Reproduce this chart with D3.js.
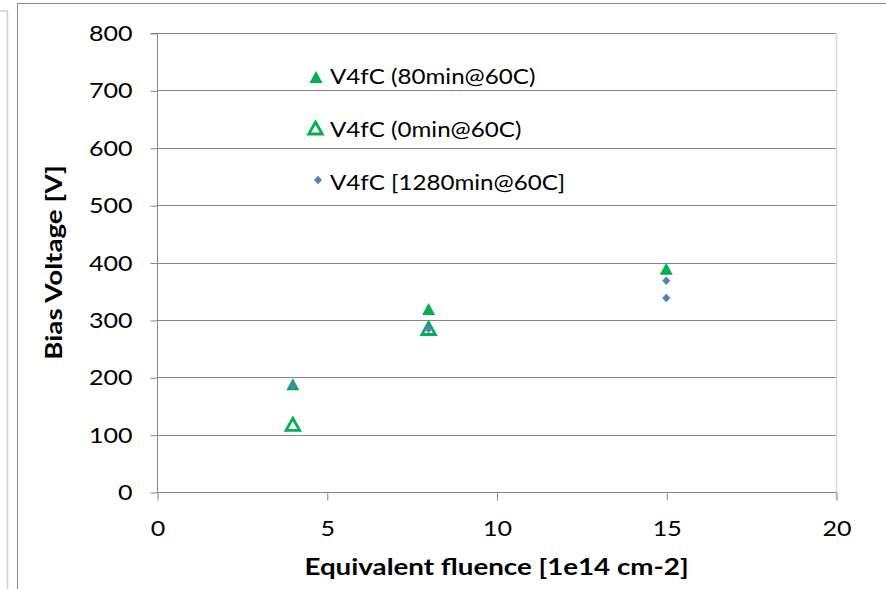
<!DOCTYPE html>
<html>
<head>
<meta charset="utf-8">
<script src="https://cdn.jsdelivr.net/npm/d3@7"></script>
<style>
  html, body { margin: 0; padding: 0; background: #fff; }
  svg { display: block; }
  text { font-family: Lato, "Open Sans", sans-serif; fill: #000; }
</style>
</head>
<body>
<svg id="chart" width="886" height="589"></svg>
<script>
// Full depletion bias voltage vs fluence, V4fC sensors after annealing steps
const xTicks = [0, 5, 10, 15, 20];
const yTicks = [0, 100, 200, 300, 400, 500, 600, 700, 800];

const seriesNames = ["V4fC (80min@60C)", "V4fC (0min@60C)", "V4fC [1280min@60C]"];

const anneal80Fluence = [4, 8, 15];
const anneal80Voltage = [188, 319, 389];

const anneal0Fluence = [4, 8];
const anneal0Voltage = [118, 285];

const anneal1280Fluence = [4, 8, 15, 15];
const anneal1280Voltage = [185, 284, 368, 338];

const W = 886, H = 589;
const margin = { left: 157, right: W - 836, top: 33, bottom: H - 492 };

// Wide-set text: glyphs are widened horizontally around their anchor
const SX = 1.14;
function widen(sel, sx = SX) {
  sel.each(function () {
    const t = d3.select(this);
    const tx = +t.attr("x") || 0, ty = +t.attr("y") || 0;
    t.attr("x", 0).attr("y", 0)
      .attr("transform", `translate(${tx},${ty}) scale(${sx},1)`);
  });
}

const svg = d3.select("#chart");

// Frames around the chart object
svg.append("rect").attr("x", -10).attr("y", 11).attr("width", 17.5).attr("height", H + 20)
  .attr("fill", "none").attr("stroke", "#d0d0d0").attr("stroke-width", 1.5);
svg.append("rect").attr("x", 17.5).attr("y", 3.5).attr("width", W + 20).attr("height", H + 20)
  .attr("fill", "#fff").attr("stroke", "#8c8c8c").attr("stroke-width", 1);

const x = d3.scaleLinear().domain([0, 20]).range([margin.left, W - margin.right]);
const y = d3.scaleLinear().domain([0, 800]).range([H - margin.bottom, margin.top]);

const gridColor = "#878787";

// Horizontal gridlines
svg.append("g")
  .selectAll("line")
  .data(yTicks.filter(d => d > 0))
  .join("line")
  .attr("x1", x(0)).attr("x2", x(20))
  .attr("y1", d => Math.round(y(d)) + 0.5).attr("y2", d => Math.round(y(d)) + 0.5)
  .attr("stroke", gridColor).attr("stroke-width", 1);

// Right border of the plot area
svg.append("line")
  .attr("x1", Math.round(x(20)) + 0.5).attr("x2", Math.round(x(20)) + 0.5)
  .attr("y1", y(800)).attr("y2", y(0) + 8)
  .attr("stroke", "#d9d9d9").attr("stroke-width", 1.5);

// Y axis
const yAxis = d3.axisLeft(y).tickValues(yTicks).tickSize(7).tickPadding(18).tickFormat(d3.format("d"));
const gy = svg.append("g").attr("transform", `translate(${Math.round(x(0)) + 0.5},0.5)`).call(yAxis);
gy.select(".domain").attr("stroke", gridColor).attr("d", `M-7,${y(800)}H0V${y(0)}`);
gy.selectAll(".tick line").attr("stroke", gridColor);
gy.selectAll(".tick text").attr("font-family", "Lato, sans-serif").attr("font-size", 22).attr("fill", "#000")
  .call(widen);

// X axis
const xAxis = d3.axisBottom(x).tickValues(xTicks).tickSize(8).tickPadding(20).tickFormat(d3.format("d"));
const gx = svg.append("g").attr("transform", `translate(0.5,${Math.round(y(0)) + 0.5})`).call(xAxis);
gx.select(".domain").attr("stroke", gridColor).attr("d", `M${x(0)},0H${x(20)}`);
gx.selectAll(".tick line").attr("stroke", gridColor);
gx.selectAll(".tick text").attr("font-family", "Lato, sans-serif").attr("font-size", 22).attr("fill", "#000")
  .call(widen);

// Axis titles
svg.append("text")
  .attr("x", (x(0) + x(20)) / 2).attr("y", 575)
  .attr("text-anchor", "middle").attr("font-weight", "bold").attr("font-size", 23.5)
  .text("Equivalent fluence [1e14 cm-2]")
  .call(widen, 1.18);

svg.append("text")
  .attr("transform", `translate(62,${(y(0) + y(800)) / 2}) rotate(-90) scale(1.18,1)`)
  .attr("text-anchor", "middle").attr("font-weight", "bold").attr("font-size", 23.5)
  .text("Bias Voltage [V]");

const green = "#00b050";
const blue = "#4f81bd";

// Marker shapes centred on their bounding box
const triangleType = (w, h) => ({
  draw(ctx) {
    ctx.moveTo(0, -h / 2);
    ctx.lineTo(w / 2, h / 2);
    ctx.lineTo(-w / 2, h / 2);
    ctx.closePath();
  }
});
const diamondType = (w, h) => ({
  draw(ctx) {
    ctx.moveTo(0, -h / 2);
    ctx.lineTo(w / 2, 0);
    ctx.lineTo(0, h / 2);
    ctx.lineTo(-w / 2, 0);
    ctx.closePath();
  }
});
const triFilled = d3.symbol().type(triangleType(13, 12));
const triOpen = d3.symbol().type(triangleType(13.5, 12));
const diamond = d3.symbol().type(diamondType(8, 8.5));

const pts = (xs, ys) => xs.map((v, i) => ({ f: v, v: ys[i] }));

svg.append("g").selectAll("path")
  .data(pts(anneal80Fluence, anneal80Voltage))
  .join("path")
  .attr("d", triFilled)
  .attr("transform", d => `translate(${x(d.f)},${y(d.v)})`)
  .attr("fill", green);

svg.append("g").selectAll("path")
  .data(pts(anneal0Fluence, anneal0Voltage))
  .join("path")
  .attr("d", triOpen)
  .attr("transform", d => `translate(${x(d.f)},${y(d.v)})`)
  .attr("fill", "none").attr("stroke", green).attr("stroke-width", 2.8)
  .attr("stroke-linejoin", "miter");

svg.append("g").selectAll("path")
  .data(pts(anneal1280Fluence, anneal1280Voltage))
  .join("path")
  .attr("d", diamond)
  .attr("transform", d => `translate(${x(d.f)},${y(d.v)})`)
  .attr("fill", blue);

// Legend (no box; gridlines run behind it)
const legend = svg.append("g");
const legendRows = [
  { name: seriesNames[0], sym: triFilled, fill: green, stroke: "none", sw: 0, mx: 316, my: 77 },
  { name: seriesNames[1], sym: triOpen, fill: "none", stroke: green, sw: 2.8, mx: 315.5, my: 128 },
  { name: seriesNames[2], sym: diamond, fill: blue, stroke: "none", sw: 0, mx: 318, my: 180 }
];
legendRows.forEach((r, i) => {
  const base = 84 + i * 53;
  legend.append("path")
    .attr("d", r.sym)
    .attr("transform", `translate(${r.mx},${r.my})`)
    .attr("fill", r.fill).attr("stroke", r.stroke).attr("stroke-width", r.sw);
  legend.append("text")
    .attr("x", 330).attr("y", base)
    .attr("font-size", 21)
    .text(r.name)
    .call(widen, 1.15);
});
</script>
</body>
</html>
